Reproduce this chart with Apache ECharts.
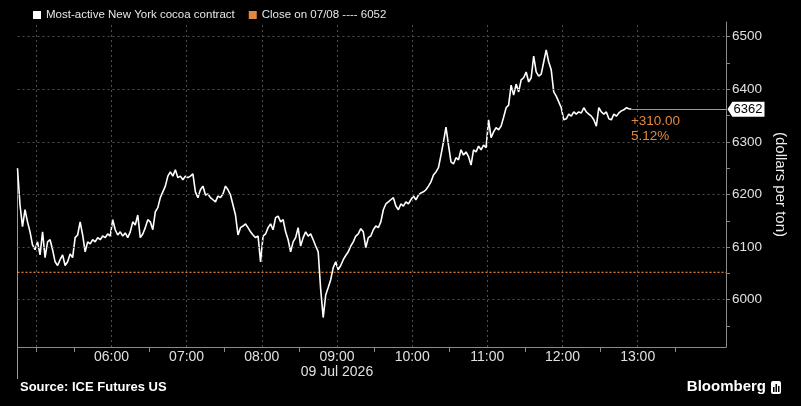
<!DOCTYPE html>
<html><head><meta charset="utf-8">
<script src="https://cdn.jsdelivr.net/npm/echarts@6/dist/echarts.min.js"></script>
<style>html,body{margin:0;padding:0;background:#000;}#c{width:801px;height:406px;}</style>
</head><body><div id="c"></div>
<script>
// ---- data ----
const seriesName = 'Most-active New York cocoa contract';
const START_MIN = 285;   // 04:45, minutes after midnight
const STEP_MIN = 2;      // bar spacing in minutes
const prices = [
6250,6180,6139,6171,6148,6129,6104,6095,6110,6085,
6129,6080,6110,6114,6095,6072,6065,6076,6085,6065,
6072,6087,6080,6118,6123,6148,6123,6091,6110,6106,
6114,6110,6118,6114,6121,6118,6125,6121,6152,6133,
6123,6129,6121,6127,6118,6129,6148,6142,6161,6118,
6125,6137,6152,6148,6133,6167,6175,6194,6205,6216,
6235,6243,6235,6247,6232,6235,6228,6235,6232,6235,
6239,6205,6194,6209,6216,6199,6201,6194,6190,6186,
6197,6194,6201,6216,6209,6199,6180,6161,6123,6137,
6140,6144,6137,6129,6123,6118,6121,6072,6121,6125,
6137,6144,6133,6156,6159,6148,6152,6129,6114,6091,
6110,6118,6137,6102,6118,6129,6121,6125,6114,6102,
6091,6019,5966,6009,6023,6038,6061,6072,6057,6065,
6076,6084,6091,6102,6110,6121,6125,6135,6129,6099,
6118,6121,6133,6140,6137,6148,6171,6182,6186,6190,
6194,6178,6171,6182,6178,6186,6182,6190,6197,6190,
6199,6203,6205,6209,6216,6224,6237,6243,6251,6275,
6300,6328,6294,6262,6258,6270,6266,6285,6275,6281,
6272,6256,6285,6281,6292,6285,6294,6289,6342,6308,
6319,6327,6323,6330,6347,6365,6370,6408,6389,6410,
6395,6418,6422,6433,6414,6422,6463,6433,6425,6429,
6452,6475,6452,6437,6395,6387,6376,6365,6342,6344,
6353,6349,6357,6353,6357,6355,6365,6357,6353,6349,
6342,6330,6365,6357,6353,6357,6344,6342,6353,6349,
6355,6359,6361,6365,6363,6362
];
const closeLabel = 'Close on 07/08';
const closePrev = 6052;
const dateLabel = '09 Jul 2026';
const xLabelMinutes = [360,420,480,540,600,660,720,780];
const xTickMinutes = [300,330,390,450,510,570,630,690,750,810];
const xGridMinutes = [300,360,420,480,540,600,660,720,780];
const yLabelValues = [6000,6100,6200,6300,6400,6500];
const yTickValues = [5950,6000,6050,6100,6150,6200,6250,6300,6350,6400,6450,6500];
const X_MIN = 285, X_MAX = 850.5, Y_MIN = 5910, Y_MAX = 6528;

// ---- build ----
const FONT = '"Liberation Sans", Arial, sans-serif';
const ORANGE = '#e3883d';
const AXIS = '#8a8a8a';
const pts = prices.map((v, i) => [START_MIN + STEP_MIN * i, v]);
const lastT = pts[pts.length - 1][0];
const last = prices[prices.length - 1];
const chg = last - closePrev;
const chgTxt = (chg >= 0 ? '+' : '') + chg.toFixed(2) + '\n' + (chg / closePrev * 100).toFixed(2) + '%';
const closeName = closeLabel + ' ---- ' + closePrev;
const pad = n => (n < 10 ? '0' : '') + n;
const fmtTime = m => pad(Math.floor(m / 60)) + ':' + pad(m % 60);

const gridMarks = [];
yLabelValues.forEach(v => gridMarks.push({ yAxis: v }));
xGridMinutes.forEach(m => gridMarks.push({ xAxis: m }));

const chart = echarts.init(document.getElementById('c'));
chart.setOption({
  backgroundColor: '#000',
  animation: false,
  textStyle: { fontFamily: FONT },
  grid: { left: 17.5, right: 75, top: 22, bottom: 59 },
  legend: {
    left: 28, top: 4, icon: 'rect', itemWidth: 8, itemHeight: 8, itemGap: 14,
    textStyle: { color: '#e6e6e6', fontSize: 11.5, fontFamily: FONT },
    data: [
      { name: seriesName, itemStyle: { color: '#ffffff' } },
      { name: closeName, itemStyle: { color: ORANGE } }
    ]
  },
  xAxis: {
    type: 'value', min: X_MIN, max: X_MAX,
    axisLine: { show: true, lineStyle: { color: AXIS } },
    axisTick: { show: true, customValues: xTickMinutes, length: 5, lineStyle: { color: AXIS } },
    axisLabel: {
      customValues: xLabelMinutes, color: '#e0e0e0', fontSize: 14, margin: 3, lineHeight: 15,
      fontFamily: FONT,
      formatter: v => v === 540 ? fmtTime(v) + '\n' + dateLabel : fmtTime(v)
    },
    splitLine: { show: false }
  },
  yAxis: {
    type: 'value', position: 'right', min: Y_MIN, max: Y_MAX,
    axisLine: { show: true, lineStyle: { color: AXIS } },
    axisTick: { show: true, customValues: yTickValues, length: 4, lineStyle: { color: AXIS } },
    axisLabel: { customValues: yLabelValues, color: '#e0e0e0', fontSize: 13.5, margin: 6, fontFamily: FONT,
      formatter: v => String(v) },
    splitLine: { show: false },
    name: '(dollars per ton)', nameLocation: 'middle', nameRotate: -90, nameGap: 37,
    nameTextStyle: { color: '#eeeeee', fontSize: 15, fontFamily: FONT }
  },
  series: [
    {
      name: closeName, type: 'line', z: 1, symbol: 'none',
      data: [[X_MIN, closePrev], [X_MAX, closePrev]],
      itemStyle: { color: ORANGE },
      lineStyle: { color: ORANGE, width: 1.2, type: [2, 2] },
      markLine: {
        silent: true, symbol: ['none', 'none'], label: { show: false },
        lineStyle: { color: '#4e4e4e', width: 1, type: [2, 3] },
        data: gridMarks
      }
    },
    {
      name: seriesName, type: 'line', z: 3, symbol: 'none',
      data: pts,
      itemStyle: { color: '#ffffff' },
      lineStyle: { color: '#ffffff', width: 1.6 },
      markLine: {
        silent: true, symbol: ['none', 'none'], label: { show: false },
        lineStyle: { color: ORANGE, width: 1, type: 'solid' },
        data: [[{ coord: [lastT, last] }, { coord: [X_MAX, last] }]]
      },
      markPoint: {
        silent: true,
        data: [
          {
            coord: [X_MAX, last],
            symbol: 'path://M0,7.5L5,0L38,0L38,15L5,15Z', symbolSize: [37, 15], symbolOffset: [20, 0],
            itemStyle: { color: '#ffffff' },
            label: { show: true, position: 'inside', formatter: String(last), color: '#000', fontSize: 13, offset: [2, 0], fontFamily: FONT }
          },
          {
            coord: [lastT, last], symbol: 'circle', symbolSize: 1,
            itemStyle: { color: 'rgba(0,0,0,0)' },
            label: { show: true, position: [0, 5], align: 'left', verticalAlign: 'top', formatter: chgTxt,
              color: ORANGE, fontSize: 13.5, lineHeight: 15, fontFamily: FONT }
          }
        ]
      }
    }
  ]
});

const p0 = chart.convertToPixel({ gridIndex: 0 }, [START_MIN, prices[0]]);
chart.setOption({
  graphic: [
    { type: 'line', shape: { x1: 17.5, y1: p0[1], x2: 17.5, y2: 379 }, style: { stroke: '#9a9a9a', lineWidth: 1 }, z: 0 },
    { type: 'text', left: 20, top: 381, style: { text: 'Source: ICE Futures US', fill: '#ffffff', font: 'bold 13px ' + FONT } },
    { type: 'text', right: 35, top: 379, style: { text: 'Bloomberg', fill: '#ffffff', font: 'bold 15px ' + FONT } },
    { type: 'rect', left: 771, top: 381, shape: { width: 10, height: 13, r: 2 }, style: { fill: '#ffffff' } },
    { type: 'rect', left: 773, top: 387, shape: { width: 1.5, height: 5 }, style: { fill: '#000' } },
    { type: 'rect', left: 775.5, top: 384, shape: { width: 1.5, height: 8 }, style: { fill: '#000' } },
    { type: 'rect', left: 778, top: 386, shape: { width: 1.5, height: 6 }, style: { fill: '#000' } }
  ]
});
</script></body></html>
